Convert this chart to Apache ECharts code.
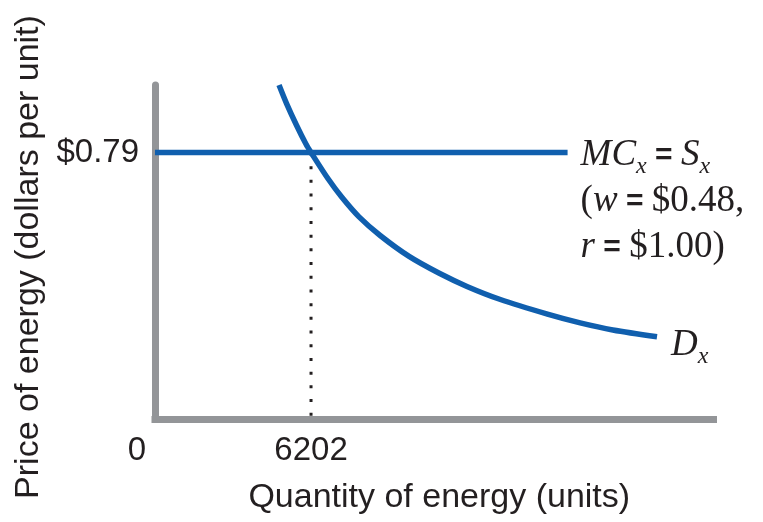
<!DOCTYPE html>
<html>
<head>
<meta charset="utf-8">
<script src="https://cdn.jsdelivr.net/npm/echarts@6/dist/echarts.min.js"></script>
<style>html,body{margin:0;padding:0;background:#fff}#c{width:763px;height:522px}</style>
</head>
<body>
<div id="c"></div>
<script>
// ---- data ----
const equilibriumQ = 6202;
const priceMC = 0.79;
const mcX = [0, 16400];
const mcY = [0.79, 0.79];
const demandX = [4930, 5230, 5630, 6000, 6202, 6880, 7420, 8100, 8950, 10100, 11300, 12400, 13700, 15600, 16900, 18200, 19955];
const demandY = [0.990, 0.935, 0.870, 0.815, 0.790, 0.712, 0.658, 0.600, 0.544, 0.482, 0.432, 0.393, 0.355, 0.311, 0.285, 0.264, 0.244];
const xTickValues = [0, 6202];
const xTickLabels = ['0', '6202'];
const yTickValues = [0.79];
const yTickLabels = ['$0.79'];
const xTitle = 'Quantity of energy (units)';
const yTitle = 'Price of energy (dollars per unit)';

const BLUE = '#105fae';
const INK = '#231f20';
const GREY = '#939598';
const SANS = '"Liberation Sans", Arial, Helvetica, sans-serif';
const SERIF = '"Liberation Serif", "Times New Roman", Times, serif';

const serifRich = {
  i: {fontFamily: SERIF, fontStyle: 'italic', fontSize: 37, color: INK, lineHeight: 46},
  n: {fontFamily: SERIF, fontSize: 37, color: INK, lineHeight: 46},
  e: {fontFamily: SANS, fontWeight: 'bold', fontSize: 30, color: INK, lineHeight: 46},
  s: {fontFamily: SERIF, fontStyle: 'italic', fontSize: 24, color: INK, verticalAlign: 'bottom'}
};

const mcData = mcX.map((x, k) => {
  const item = {value: [x, mcY[k]]};
  if (k === mcX.length - 1) {
    item.label = {
      show: true, position: 'right', distance: 13, offset: [0, 49],
      formatter: '{i|MC}{s|x}{e| = }{i|S}{s|x}\n{n|(}{i|w}{e| = }{n|$0.48,}\n{i|r}{e| = }{n|$1.00)}',
      rich: serifRich
    };
  }
  return item;
});
const demandData = demandX.map((x, k) => {
  const item = {value: [x, demandY[k]]};
  if (k === demandX.length - 1) {
    item.label = {
      show: true, position: 'right', distance: 14, offset: [0, 9],
      formatter: '{i|D}{s|x}',
      rich: serifRich
    };
  }
  return item;
});

const chart = echarts.init(document.getElementById('c'), null, {renderer: 'canvas'});
chart.setOption({
  animation: false,
  backgroundColor: '#fff',
  grid: {left: 155, right: 49.5, top: 85, bottom: 103, containLabel: false},
  xAxis: {
    type: 'value', min: 0, max: 22200,
    axisLine: {lineStyle: {color: GREY, width: 7, cap: 'square'}},
    axisTick: {show: false},
    splitLine: {show: false},
    axisLabel: {
      customValues: xTickValues,
      margin: 15,
      formatter: v => {
        const k = xTickValues.indexOf(v);
        return k === 0 ? '{z|' + xTickLabels[k] + '}' : '{n|' + xTickLabels[k] + '}';
      },
      rich: {
        z: {fontFamily: SANS, fontSize: 33, color: INK, padding: [0, 36, 0, 0]},
        n: {fontFamily: SANS, fontSize: 33, color: INK}
      }
    },
    name: xTitle, nameLocation: 'middle', nameGap: 62,
    nameTextStyle: {fontFamily: SANS, fontSize: 34, color: INK, padding: [0, 0, 0, 10]}
  },
  yAxis: {
    type: 'value', min: 0, max: 0.99,
    axisLine: {lineStyle: {color: GREY, width: 7}},
    axisTick: {show: false},
    splitLine: {show: false},
    axisLabel: {
      customValues: yTickValues,
      margin: 16,
      formatter: v => yTickLabels[yTickValues.indexOf(v)] || '',
      fontFamily: SANS, fontSize: 33, color: INK
    },
    name: yTitle, nameLocation: 'middle', nameGap: 104, nameRotate: 90,
    nameTextStyle: {fontFamily: SANS, fontSize: 34, color: INK, padding: [0, 10, 0, 0]}
  },
  series: [
    {
      type: 'line', name: 'guide', z: 1, symbol: 'none', silent: true,
      data: [[equilibriumQ, priceMC], [equilibriumQ, 0]],
      lineStyle: {color: INK, width: 3, type: [3, 10.7], cap: 'butt'}
    },
    {
      type: 'line', name: 'MC', z: 3, symbol: 'circle', symbolSize: 0.01, showSymbol: true, clip: false,
      itemStyle: {color: BLUE},
      label: {show: false},
      data: mcData,
      lineStyle: {color: BLUE, width: 5.5, cap: 'butt'}
    },
    {
      type: 'line', name: 'D', z: 3, symbol: 'circle', symbolSize: 0.01, showSymbol: true, clip: false, smooth: 0.3,
      itemStyle: {color: BLUE},
      label: {show: false},
      data: demandData,
      lineStyle: {color: BLUE, width: 5.5, cap: 'butt'}
    }
  ]
});
</script>
</body>
</html>
